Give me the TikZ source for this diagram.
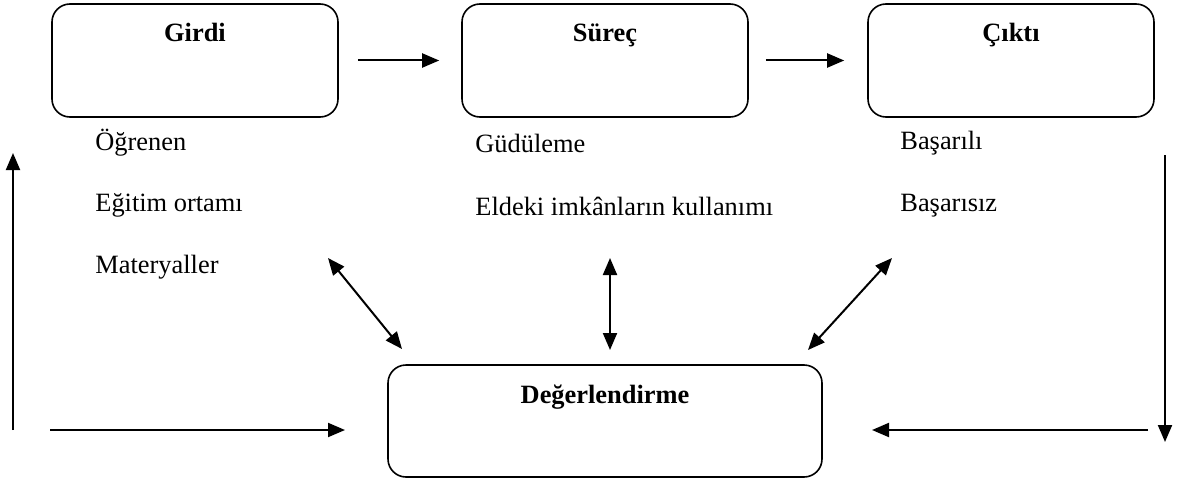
\documentclass[12pt,tikz,border=0pt]{standalone}
\usepackage{fontspec}
\setmainfont{Liberation Serif}
\usetikzlibrary{positioning,arrows.meta}

\begin{document}
\begin{tikzpicture}[x=0.5pt,y=-0.5pt,
    font=\fontsize{13.2pt}{16pt}\selectfont,
    box/.style={draw, line width=0.8pt, rounded corners=9pt, minimum width=143pt, minimum height=56.5pt},
    title/.style={font=\fontsize{13.2pt}{16pt}\selectfont\bfseries, inner sep=0pt},
    item/.style={anchor=west, inner sep=0pt},
    arr/.style={-{Triangle[length=8.5pt,width=7pt]}, line width=1pt},
    dbl/.style={{Triangle[length=8.5pt,width=7pt]}-{Triangle[length=8.5pt,width=7pt]}, line width=1pt}
]
\useasboundingbox (0,0) rectangle (1187,481);
% top row
\node[box] (girdi) at (195,60.5) {};
\node[box] (surec) at (605,60.5) {};
\node[box] (cikti) at (1011,60.5) {};
\node[title, below=10pt of girdi.north] (girdiT) {Girdi};
\node[title, below=10pt of surec.north] (surecT) {Süreç};
\node[title, below=10pt of cikti.north] (ciktiT) {Çıktı};
\draw[arr, shorten <=9.5pt, shorten >=11pt] (girdi) -- (surec);
\draw[arr, shorten <=8.5pt, shorten >=11.5pt] (surec) -- (cikti);
% lists under the boxes
\node[item] (ogr) at (95,143) {Öğrenen};
\node[item] (egt) at (95,205) {Eğitim ortamı};
\node[item] (mat) at (95,267) {Materyaller};
\node[item] (gud) at (475,143) {Güdüleme};
\node[item] (eld) at (475,206) {Eldeki imkânların kullanımı};
\node[item] (bas) at (900,143) {Başarılı};
\node[item] (bsz) at (900,206) {Başarısız};
% evaluation
\node[box, minimum width=217pt, minimum height=56pt] (deger) at (605,421) {};
\node[title, below=10pt of deger.north] (degerT) {Değerlendirme};
\coordinate (lTop) at (328,258);
\coordinate (lBot) at (402,349);
\coordinate (mTop) at (610,258);
\coordinate (mBot) at (610,350);
\coordinate (rTop) at (892,258);
\coordinate (rBot) at (808,350);
\draw[dbl] (lTop) -- (lBot);
\draw[dbl] (mTop) -- (mBot);
\draw[dbl] (rTop) -- (rBot);
% feedback loop
\coordinate (outTop) at (1165,155);
\coordinate (outBot) at (1165,442);
\coordinate (outIn) at (1148,430);
\coordinate (outTip) at (872,430);
\coordinate (inStart) at (50,430);
\coordinate (inTip) at (345,430);
\coordinate (upBot) at (13,430);
\coordinate (upTop) at (13,153);
\draw[arr] (outTop) -- (outBot);
\draw[arr] (outIn) -- (outTip);
\draw[arr] (inStart) -- (inTip);
\draw[arr] (upBot) -- (upTop);
\end{tikzpicture}
\end{document}
